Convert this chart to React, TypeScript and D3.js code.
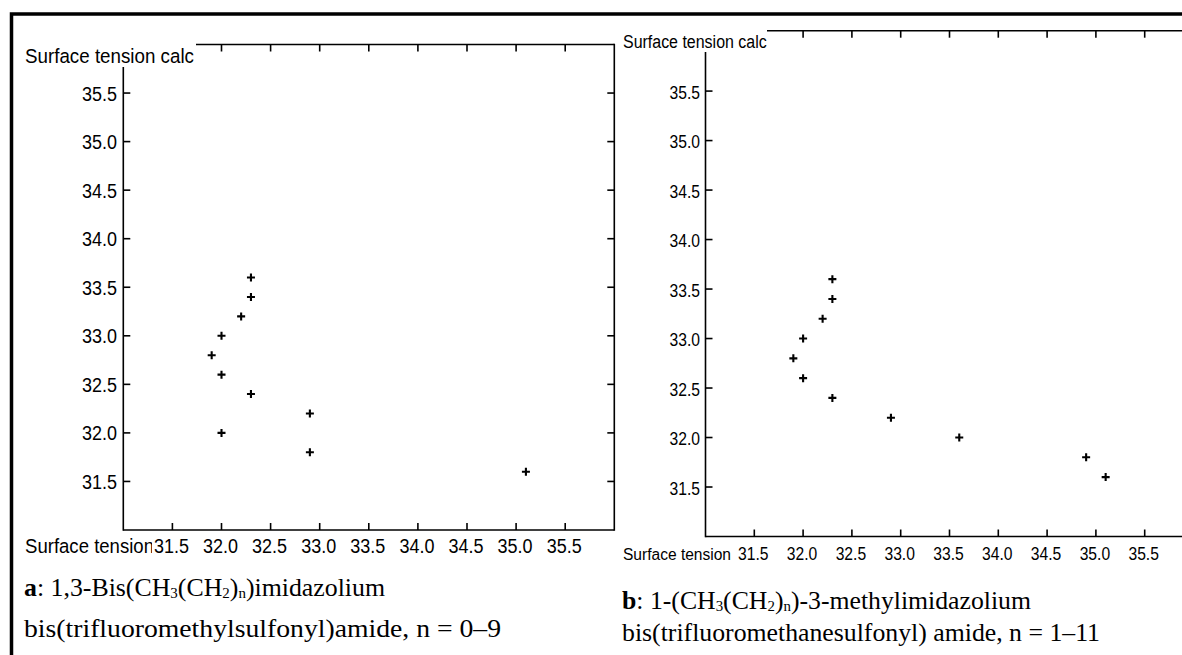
import React from "react";
import * as d3 from "d3";

// ---------- data ----------
const xTickValues = [31.5, 32.0, 32.5, 33.0, 33.5, 34.0, 34.5, 35.0, 35.5];
const yTickValues = [31.5, 32.0, 32.5, 33.0, 33.5, 34.0, 34.5, 35.0, 35.5];
const tickLabels = ["31.5", "32.0", "32.5", "33.0", "33.5", "34.0", "34.5", "35.0", "35.5"];

const panelAX = [32.3, 32.3, 32.2, 32.0, 31.9, 32.0, 32.3, 32.9, 32.0, 32.9, 35.1];
const panelAY = [33.6, 33.4, 33.2, 33.0, 32.8, 32.6, 32.4, 32.2, 32.0, 31.8, 31.6];

const panelBX = [32.3, 32.3, 32.2, 32.0, 31.9, 32.0, 32.3, 32.9, 33.6, 34.9, 35.1];
const panelBY = [33.6, 33.4, 33.2, 33.0, 32.8, 32.6, 32.4, 32.2, 32.0, 31.8, 31.6];

const yTitle = "Surface tension calc";
const xTitle = "Surface tension";

// ---------- layout ----------
const W = 1182;
const H = 655;

type PanelCfg = {
  id: string;
  xs: number[];
  ys: number[];
  xDomain: [number, number];
  xRange: [number, number];
  yDomain: [number, number];
  yRange: [number, number];
  fontSize: number;
  labelLen: number;
  yTitleX: number;
  yTitleBase: number;
  yTitleLen: number;
  topLineStart: number;
  leftAxisStart: number;
  xTitleX: number;
  xTitleLen: number;
  xTitleSize: number;
  xTitleClip: number;
  xLabelBase: number;
  yLabelEnd: number;
  tick: number;
  cross: number;
};

const panels: PanelCfg[] = [
  {
    id: "a",
    xs: panelAX,
    ys: panelAY,
    xDomain: [31, 36],
    xRange: [123.3, 614.3],
    yDomain: [31, 36],
    yRange: [530, 44.5],
    fontSize: 20.5,
    labelLen: 35,
    yTitleX: 25,
    yTitleBase: 63,
    yTitleLen: 169,
    topLineStart: 196,
    leftAxisStart: 67,
    xTitleX: 25,
    xTitleLen: 129,
    xTitleSize: 20.5,
    xTitleClip: 152,
    xLabelBase: 553,
    yLabelEnd: 117,
    tick: 7,
    cross: 4,
  },
  {
    id: "b",
    xs: panelBX,
    ys: panelBY,
    xDomain: [31, 36],
    xRange: [705.5, 1193.5],
    yDomain: [31, 36.11],
    yRange: [536.5, 30.7],
    fontSize: 18,
    labelLen: 30.5,
    yTitleX: 623,
    yTitleBase: 48.3,
    yTitleLen: 143.7,
    topLineStart: 767,
    leftAxisStart: 52,
    xTitleX: 623,
    xTitleLen: 108,
    xTitleSize: 16,
    xTitleClip: 2000,
    xLabelBase: 560,
    yLabelEnd: 700,
    tick: 7,
    cross: 4,
  },
];

const sansFont = "'Liberation Sans', Arial, sans-serif";
const serifFont = "'Liberation Serif', 'Times New Roman', serif";

function Panel({ cfg }: { cfg: PanelCfg }) {
  const x = d3.scaleLinear().domain(cfg.xDomain).range(cfg.xRange);
  const y = d3.scaleLinear().domain(cfg.yDomain).range(cfg.yRange);
  const x0 = x(cfg.xDomain[0]);
  const x1 = x(cfg.xDomain[1]);
  const y0 = y(cfg.yDomain[0]);
  const y1 = y(cfg.yDomain[1]);
  const t = cfg.tick;
  const sw = 1.6;
  const clipId = `xclip-${cfg.id}`;
  const crossPath = `M${-cfg.cross},0H${cfg.cross}M0,${-cfg.cross}V${cfg.cross}`;
  return (
    <g>
      <defs>
        <clipPath id={clipId}>
          <rect x={0} y={0} width={cfg.xTitleClip} height={H} />
        </clipPath>
      </defs>
      {/* frame */}
      <g stroke="#000" strokeWidth={sw} fill="none">
        <line x1={x0} y1={cfg.leftAxisStart} x2={x0} y2={y0 + sw / 2} />
        <line x1={x0} y1={y0} x2={x1} y2={y0} />
        <line x1={cfg.topLineStart} y1={y1} x2={x1} y2={y1} />
        <line x1={x1} y1={y1 - sw / 2} x2={x1} y2={y0 + sw / 2} />
        {xTickValues.map((v) => (
          <line key={"bt" + v} x1={x(v)} y1={y0} x2={x(v)} y2={y0 - t} />
        ))}
        {xTickValues
          .filter((v) => x(v) > cfg.topLineStart)
          .map((v) => (
            <line key={"tt" + v} x1={x(v)} y1={y1} x2={x(v)} y2={y1 + t} />
          ))}
        {yTickValues.map((v) => (
          <line key={"lt" + v} x1={x0} y1={y(v)} x2={x0 + t} y2={y(v)} />
        ))}
        {yTickValues.map((v) => (
          <line key={"rt" + v} x1={x1} y1={y(v)} x2={x1 - t} y2={y(v)} />
        ))}
      </g>
      {/* labels */}
      <g fontFamily={sansFont} fontSize={cfg.fontSize} fill="#000">
        <text
          x={cfg.yTitleX}
          y={cfg.yTitleBase}
          textLength={cfg.yTitleLen}
          lengthAdjust="spacingAndGlyphs"
        >
          {yTitle}
        </text>
        <text
          x={cfg.xTitleX}
          y={cfg.xLabelBase}
          fontSize={cfg.xTitleSize}
          textLength={cfg.xTitleLen}
          lengthAdjust="spacingAndGlyphs"
          clipPath={`url(#${clipId})`}
        >
          {xTitle}
        </text>
        {xTickValues.map((v, i) => (
          <text
            key={"xl" + v}
            x={x(v) - cfg.labelLen / 2 - 1}
            y={cfg.xLabelBase}
            textLength={cfg.labelLen}
            lengthAdjust="spacingAndGlyphs"
          >
            {tickLabels[i]}
          </text>
        ))}
        {yTickValues.map((v, i) => (
          <text
            key={"yl" + v}
            x={cfg.yLabelEnd - cfg.labelLen}
            y={y(v) + 7.5}
            textLength={cfg.labelLen}
            lengthAdjust="spacingAndGlyphs"
          >
            {tickLabels[i]}
          </text>
        ))}
      </g>
      {/* points */}
      <g stroke="#000" strokeWidth={2.1} fill="none">
        {cfg.xs.map((xv, i) => (
          <path
            key={"p" + i}
            d={crossPath}
            transform={`translate(${x(xv)},${y(cfg.ys[i])})`}
          />
        ))}
      </g>
    </g>
  );
}

const Sub = ({ children }: { children: React.ReactNode }) => (
  <tspan fontSize="58%" dy={2}>
    {children}
  </tspan>
);

export default function App() {
  return (
    <svg
      width={W}
      height={H}
      viewBox={`0 0 ${W} ${H}`}
      style={{ position: "absolute", left: 0, top: 0, background: "#fff" }}
    >
      <rect x={0} y={0} width={W} height={H} fill="#fff" />
      {/* outer frame */}
      <rect
        x={11.5}
        y={14}
        width={W + 20}
        height={H + 20}
        fill="none"
        stroke="#000"
        strokeWidth={3.5}
      />
      {panels.map((p) => (
        <Panel key={p.id} cfg={p} />
      ))}
      {/* captions */}
      <g fontFamily={serifFont} fill="#000">
        <text x={24} y={596} fontSize={25.5} textLength={361} lengthAdjust="spacingAndGlyphs">
          <tspan fontWeight="bold">a</tspan>
          <tspan>: 1,3-Bis(CH</tspan>
          <Sub>3</Sub>
          <tspan dy={-2}>(CH</tspan>
          <Sub>2</Sub>
          <tspan dy={-2}>)</tspan>
          <Sub>n</Sub>
          <tspan dy={-2}>)imidazolium</tspan>
        </text>
        <text x={24} y={637} fontSize={25.5} textLength={477} lengthAdjust="spacingAndGlyphs">
          bis(trifluoromethylsulfonyl)amide, n = 0–9
        </text>
        <text x={622} y={609} fontSize={24.5} textLength={409} lengthAdjust="spacingAndGlyphs">
          <tspan fontWeight="bold">b</tspan>
          <tspan>: 1-(CH</tspan>
          <Sub>3</Sub>
          <tspan dy={-2}>(CH</tspan>
          <Sub>2</Sub>
          <tspan dy={-2}>)</tspan>
          <Sub>n</Sub>
          <tspan dy={-2}>)-3-methylimidazolium</tspan>
        </text>
        <text x={622} y={641} fontSize={24.5} textLength={478} lengthAdjust="spacingAndGlyphs">
          bis(trifluoromethanesulfonyl) amide, n = 1–11
        </text>
      </g>
    </svg>
  );
}
